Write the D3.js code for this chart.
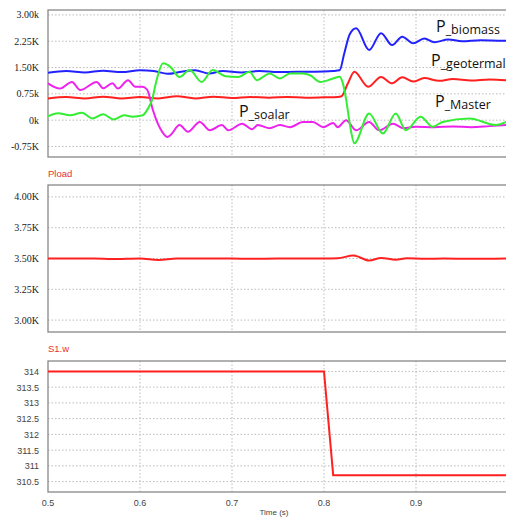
<!DOCTYPE html>
<html>
<head>
<meta charset="utf-8">
<script src="https://cdn.jsdelivr.net/npm/d3@7/dist/d3.min.js"></script>
<style>
body { margin: 0; background: #fff; }
svg { display: block; }
.serif { font-family: "Liberation Serif", "DejaVu Serif", Times, serif; }
</style>
</head>
<body>
<div id="chart"></div>
<script>
var width = 506;
var height = 517;

// time samples and values (kW)
var tSolar = [0.5,0.513,0.526,0.535,0.553,0.56,0.57,0.576,0.587,0.595,0.603,0.608,0.614,0.622,0.63,0.633,0.643,0.652,0.665,0.676,0.689,0.696,0.711,0.722,0.728,0.741,0.752,0.763,0.777,0.788,0.799,0.81,0.815,0.824,0.835,0.849,0.86,0.875,0.886,0.9,0.92,0.94,0.96,0.98,0.998];
var pSolar = [1.05,0.9,1.09,0.86,1.09,0.91,1.05,0.9,1.14,0.95,0.95,0.86,0.29,-0.24,-0.48,-0.43,-0.14,-0.33,-0.05,-0.29,-0.14,-0.29,-0.1,-0.26,-0.14,-0.23,-0.14,-0.2,-0.05,-0.05,-0.2,-0.08,-0.2,0.0,-0.29,-0.05,-0.29,-0.1,-0.23,-0.19,-0.2,-0.18,-0.2,-0.17,-0.14];

var tMaster = [0.5,0.511,0.524,0.537,0.548,0.56,0.571,0.583,0.592,0.603,0.608,0.613,0.618,0.625,0.633,0.643,0.654,0.667,0.679,0.693,0.707,0.719,0.727,0.741,0.752,0.763,0.777,0.785,0.796,0.81,0.817,0.82,0.824,0.828,0.833,0.849,0.864,0.878,0.889,0.905,0.918,0.929,0.958,0.987,0.998];
var pMaster = [0.11,0.2,0.14,0.21,0.05,0.17,0.02,0.14,0.1,0.14,0.3,0.57,1.14,1.62,1.52,1.23,1.43,1.09,1.43,1.25,1.23,1.38,1.14,1.33,1.19,1.33,1.33,1.28,1.09,1.19,1.24,1.1,0.6,-0.1,-0.66,0.19,-0.38,0.19,-0.29,0.1,-0.19,-0.05,0.05,-0.14,-0.05];

var tBiomass = [0.5,0.52,0.54,0.56,0.58,0.6,0.615,0.63,0.645,0.66,0.675,0.69,0.71,0.73,0.75,0.77,0.79,0.81,0.817,0.822,0.828,0.835,0.849,0.862,0.874,0.885,0.897,0.909,0.92,0.935,0.95,0.97,0.998];
var pBiomass = [1.35,1.4,1.36,1.41,1.37,1.42,1.4,1.32,1.38,1.42,1.33,1.4,1.36,1.4,1.37,1.38,1.38,1.4,1.42,1.9,2.45,2.62,2.0,2.48,2.14,2.38,2.19,2.33,2.22,2.3,2.25,2.28,2.26];

var tGeo = [0.5,0.52,0.54,0.56,0.58,0.6,0.62,0.64,0.66,0.68,0.7,0.72,0.74,0.76,0.78,0.8,0.815,0.819,0.826,0.833,0.848,0.862,0.874,0.885,0.897,0.909,0.925,0.94,0.96,0.98,0.998];
var pGeo = [0.62,0.66,0.62,0.67,0.62,0.66,0.62,0.68,0.62,0.67,0.63,0.66,0.64,0.66,0.64,0.65,0.66,0.68,1.05,1.38,0.95,1.23,1.05,1.22,1.1,1.2,1.12,1.17,1.13,1.16,1.14];

var tLoad = [0.5,0.55,0.57,0.6,0.62,0.64,0.7,0.72,0.75,0.8,0.815,0.832,0.849,0.862,0.878,0.89,0.91,0.93,0.96,0.998];
var pLoad = [3.5,3.5,3.495,3.5,3.488,3.5,3.5,3.497,3.5,3.5,3.502,3.524,3.484,3.505,3.49,3.502,3.497,3.5,3.497,3.5];

var tSpeed = [0.5,0.8,0.81,1.0];
var wSpeed = [314,314,310.7,310.7];

var timeTicks = [0.5,0.6,0.7,0.8,0.9];
var powerTicks = [3.0,2.25,1.5,0.75,0,-0.75];
var powerTickLabels = ["3.00k","2.25K","1.50K","0.75k","0k","-0.75K"];
var loadTicks = [4.0,3.75,3.5,3.25,3.0];
var loadTickLabels = ["4.00K","3.75K","3.50K","3.25K","3.00K"];
var speedTicks = [314,313.5,313,312.5,312,311.5,311,310.5];

var svg = d3.select("#chart").append("svg")
    .attr("width", width)
    .attr("height", height);

var x = d3.scaleLinear()
    .domain([0.5, 1.0])
    .range([48, 508]);

var line = function (xs, ys, y) {
    return d3.line()
        .x(function (d) { return x(xs[d]); })
        .y(function (d) { return y(ys[d]); })
        .curve(d3.curveMonotoneX)(d3.range(xs.length));
};

// draws the box, grid and y tick labels of one panel
function panel(top, bottom, y, ticks, labels, cls, color, size) {
    var g = svg.append("g");
    g.selectAll(".hgrid")
        .data(ticks)
        .enter().append("line")
        .attr("x1", 48).attr("x2", width)
        .attr("y1", y).attr("y2", y)
        .attr("stroke", "#bbb")
        .attr("stroke-dasharray", "1.5,2");
    g.selectAll(".vgrid")
        .data(timeTicks.slice(1))
        .enter().append("line")
        .attr("x1", x).attr("x2", x)
        .attr("y1", top).attr("y2", bottom)
        .attr("stroke", "#bbb")
        .attr("stroke-dasharray", "1.5,2");
    g.append("rect")
        .attr("x", 48).attr("y", top)
        .attr("width", width - 48 + 5).attr("height", bottom - top)
        .attr("fill", "none")
        .attr("stroke", "#888")
        .attr("stroke-width", 1.3);
    g.selectAll(".lab")
        .data(ticks)
        .enter().append("text")
        .attr("class", cls)
        .attr("x", 39)
        .attr("y", function (d) { return y(d) + 3.5; })
        .attr("text-anchor", "end")
        .attr("font-size", size)
        .attr("fill", color)
        .text(function (d, i) { return labels[i]; });
    return g;
}

// panel 1: generator powers
var y1 = d3.scaleLinear().domain([-1.05, 3.14]).range([157, 10]);
panel(10, 157, y1, powerTicks, powerTickLabels, "serif", "#222", 10);

var series = [
    [tBiomass, pBiomass, "#2222ff"],
    [tGeo, pGeo, "#ff2020"],
    [tSolar, pSolar, "#ee22ee"],
    [tMaster, pMaster, "#33ee33"]
];
series.forEach(function (s) {
    svg.append("path")
        .attr("d", line(s[0], s[1], y1))
        .attr("fill", "none")
        .attr("stroke", s[2])
        .attr("stroke-width", 2);
});

var names = [
    {p: "P", s: "_biomass", x: 436, y: 32},
    {p: "P", s: "_geotermal", x: 431, y: 66},
    {p: "P", s: "_Master", x: 435, y: 107},
    {p: "P", s: "_soalar", x: 239, y: 117}
];
names.forEach(function (n) {
    var t = svg.append("text")
        .attr("x", n.x).attr("y", n.y)
        .attr("font-family", "Open Sans")
        .attr("fill", "#111");
    t.append("tspan").attr("font-size", 16).text(n.p);
    t.append("tspan").attr("font-size", 12.5).attr("dy", 2).text(n.s);
});

// panel 2: load power
var y2 = d3.scaleLinear().domain([3.5 - 74 / 124, 3.5 + 74 / 124]).range([332, 185]);
panel(185, 332, y2, loadTicks, loadTickLabels, "serif", "#222", 10);
svg.append("path")
    .attr("d", line(tLoad, pLoad, y2))
    .attr("fill", "none")
    .attr("stroke", "#ff2020")
    .attr("stroke-width", 2);
svg.append("text")
    .attr("x", 48).attr("y", 177)
    .attr("font-family", "Liberation Sans")
    .attr("font-size", 9.5)
    .attr("fill", "#e83030")
    .text("Pload");

// panel 3: shaft speed
var y3 = d3.scaleLinear().domain([310.17, 314.33]).range([492, 361]);
panel(361, 492, y3, speedTicks, speedTicks.map(String), "sans", "#444", 9);
svg.selectAll("text.sans").attr("font-family", "Liberation Sans");
svg.append("path")
    .attr("d", d3.line()
        .x(function (d, i) { return x(tSpeed[i]); })
        .y(function (d) { return y3(d); })(wSpeed))
    .attr("fill", "none")
    .attr("stroke", "#ff2020")
    .attr("stroke-width", 2);
svg.append("text")
    .attr("x", 48).attr("y", 352)
    .attr("font-family", "Liberation Sans")
    .attr("font-size", 9.5)
    .attr("fill", "#e83030")
    .text("S1.w");

svg.selectAll(".xlab")
    .data(timeTicks)
    .enter().append("text")
    .attr("x", x)
    .attr("y", 506)
    .attr("text-anchor", "middle")
    .attr("font-family", "Liberation Sans")
    .attr("font-size", 9)
    .attr("fill", "#444")
    .text(function (d) { return d; });
svg.append("text")
    .attr("x", 274).attr("y", 515)
    .attr("text-anchor", "middle")
    .attr("font-family", "Liberation Sans")
    .attr("font-size", 8)
    .attr("fill", "#444")
    .text("Time (s)");
</script>
</body>
</html>
